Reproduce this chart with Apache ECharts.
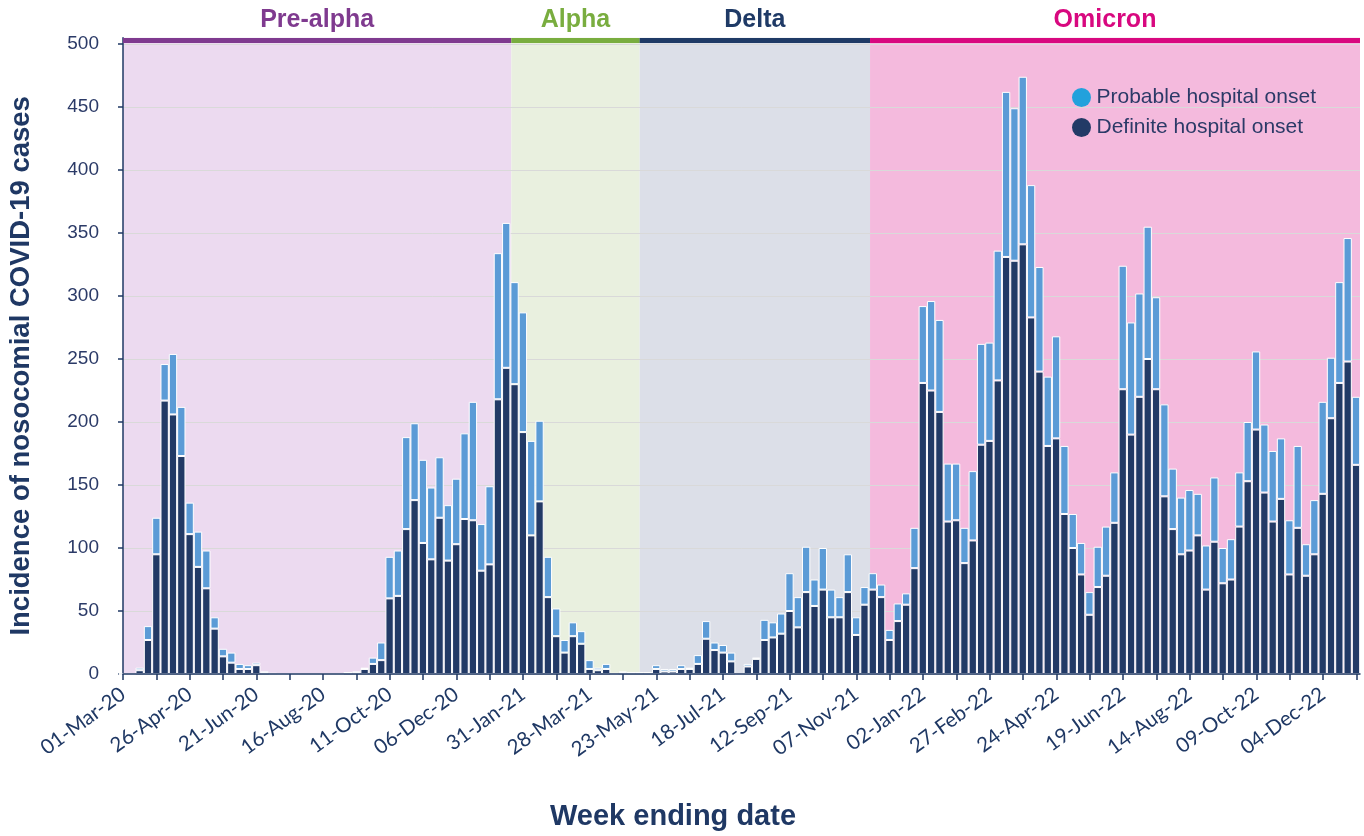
<!DOCTYPE html>
<html>
<head>
<meta charset="utf-8">
<script src="https://cdn.jsdelivr.net/npm/echarts@6/dist/echarts.min.js"></script>
<style>
  html, body { margin: 0; padding: 0; background: #ffffff; }
  #chart { width: 1364px; height: 836px; }
</style>
</head>
<body>
<div id="chart"></div>
<script>
// Weekly nosocomial COVID-19 cases, week ending 01-Mar-20 (index 0) to 01-Jan-23 (index 148)
const definiteOnset = [
  0, 0, 3, 27, 95, 217, 206, 173, 111, 85,
  68, 36, 14, 9, 4, 4, 7, 1, 0, 0,
  0, 0, 0, 0, 0, 0, 0, 1, 1, 4,
  8, 11, 60, 62, 115, 138, 104, 91, 124, 90,
  103, 123, 122, 82, 87, 218, 243, 230, 192, 110,
  137, 61, 30, 17, 30, 24, 4, 3, 4, 0,
  1, 1, 1, 1, 4, 2, 2, 4, 4, 8,
  28, 19, 17, 10, 0, 6, 12, 27, 29, 32,
  50, 37, 65, 54, 67, 45, 45, 65, 31, 55,
  67, 61, 27, 42, 55, 84, 231, 225, 208, 121,
  122, 88, 106, 182, 185, 233, 331, 328, 341, 283,
  240, 181, 187, 127, 100, 79, 47, 69, 78, 120,
  226, 190, 220, 250, 226, 141, 115, 95, 98, 110,
  67, 105, 72, 75, 117, 153, 194, 144, 121, 139,
  79, 116, 78, 95, 143, 203, 231, 248, 166
];
const probableOnset = [
  0, 0, 2, 11, 29, 29, 48, 39, 25, 28,
  30, 9, 6, 8, 4, 3, 2, 1, 1, 0,
  0, 0, 0, 0, 0, 0, 0, 0, 1, 1,
  5, 14, 33, 36, 73, 61, 66, 57, 48, 44,
  52, 68, 94, 37, 62, 116, 115, 81, 95, 75,
  64, 32, 22, 10, 11, 10, 7, 2, 4, 1,
  1, 0, 0, 0, 3, 2, 2, 3, 1, 7,
  14, 6, 6, 7, 0, 2, 1, 16, 12, 16,
  30, 24, 36, 21, 33, 22, 16, 30, 14, 14,
  13, 10, 8, 14, 9, 32, 61, 71, 73, 46,
  45, 28, 55, 80, 78, 103, 131, 121, 133, 105,
  83, 55, 81, 54, 27, 25, 18, 32, 39, 40,
  98, 89, 82, 105, 73, 73, 48, 45, 48, 33,
  35, 51, 28, 32, 43, 47, 62, 54, 56, 48,
  43, 65, 25, 43, 73, 48, 80, 98, 54
];

// Axis labels: one every 8 weeks, ticks every 4 weeks
const xTickLabels = [
  '01-Mar-20', '26-Apr-20', '21-Jun-20', '16-Aug-20', '11-Oct-20', '06-Dec-20',
  '31-Jan-21', '28-Mar-21', '23-May-21', '18-Jul-21', '12-Sep-21', '07-Nov-21',
  '02-Jan-22', '27-Feb-22', '24-Apr-22', '19-Jun-22', '14-Aug-22', '09-Oct-22',
  '04-Dec-22'
];
const yTicks = [0, 50, 100, 150, 200, 250, 300, 350, 400, 450, 500];

// Week-ending dates used as bar categories
const monthNames = ['Jan', 'Feb', 'Mar', 'Apr', 'May', 'Jun', 'Jul', 'Aug', 'Sep', 'Oct', 'Nov', 'Dec'];
const firstWeek = Date.UTC(2020, 2, 1);
const weekEnding = definiteOnset.map((_, i) => {
  const d = new Date(firstWeek + i * 7 * 86400000);
  const dd = String(d.getUTCDate()).padStart(2, '0');
  return dd + '-' + monthNames[d.getUTCMonth()] + '-' + String(d.getUTCFullYear()).slice(2);
});

// Variant periods, in week-index units along the x axis
const phaseNames = ['Pre-alpha', 'Alpha', 'Delta', 'Omicron'];
const phaseStart = [0, 46.6, 62, 89.65];
const phaseEnd = [46.6, 62, 89.65, 148.45];
const phaseFill = ['#ecdaf0', '#e9f0df', '#dcdfe8', '#f4badd'];
const phaseColor = ['#7f3a8f', '#79ad3f', '#1f3a66', '#d8087f'];

const xMax = 148.45;
const yMax = 505;
const bandLevel = 503;

const labelTicks = xTickLabels.map((_, i) => i * 8);
const minorTicks = [];
for (let w = 0; w <= 148; w += 4) minorTicks.push(w);

const navy = '#1f3864';

const backgroundAreas = phaseNames.map((name, i) => [
  {
    name: name,
    xAxis: phaseStart[i],
    itemStyle: { color: phaseFill[i] },
    label: {
      show: true,
      position: 'top',
      distance: 5,
      offset: i === 3 ? [-10, 0] : [0, 0],
      color: phaseColor[i],
      fontFamily: 'Liberation Sans',
      fontWeight: 'bold',
      fontSize: 25
    }
  },
  { xAxis: phaseEnd[i] }
]);

const phaseBands = phaseNames.map((name, i) => [
  { coord: [phaseStart[i], bandLevel], lineStyle: { color: phaseColor[i] } },
  { coord: [phaseEnd[i], bandLevel] }
]);

const plotTop = 37.7;
const plotBottom = 162;

const chart = echarts.init(document.getElementById('chart'), null, { renderer: 'canvas' });

chart.setOption({
  animation: false,
  backgroundColor: '#ffffff',
  title: {
    text: 'Week ending date',
    left: 550,
    top: 802,
    padding: 0,
    textStyle: { fontFamily: 'Liberation Sans', fontWeight: 'bold', fontSize: 29, color: navy }
  },
  legend: {
    orient: 'vertical',
    left: 1067,
    top: 82,
    itemWidth: 20,
    itemHeight: 19,
    itemGap: 9,
    icon: 'circle',
    selectedMode: false,
    textStyle: { fontFamily: 'Liberation Sans', fontSize: 21, lineHeight: 21, color: '#2b3a67' },
    data: [
      { name: 'Probable hospital onset', itemStyle: { color: '#22a1dc', borderWidth: 0 } },
      { name: 'Definite hospital onset', itemStyle: { color: '#223a66', borderWidth: 0 } }
    ]
  },
  grid: [
    // Frame with the visible axes, shading and period bands
    { left: 123, right: 4, top: plotTop, bottom: plotBottom, containLabel: false, outerBoundsMode: 'none' },
    // Bars: first week on the y axis, last week centred on the final tick
    { left: 123, right: 8, top: plotTop, bottom: plotBottom, containLabel: false, outerBoundsMode: 'none' }
  ],
  xAxis: [
    {
      type: 'value',
      gridIndex: 0,
      min: 0,
      max: xMax,
      z: 3,
      splitLine: { show: false },
      axisLine: { show: true, lineStyle: { color: navy, width: 1.5 } },
      axisTick: { show: true, length: 6, customValues: minorTicks, lineStyle: { color: navy, width: 1.5 } },
      axisLabel: {
        customValues: labelTicks,
        rotate: 36,
        margin: 18,
        fontFamily: 'Lato',
        fontSize: 20.5,
        color: navy,
        formatter: v => xTickLabels[Math.round(v / 8)] || ''
      }
    },
    {
      type: 'category',
      gridIndex: 1,
      data: weekEnding,
      boundaryGap: false,
      show: false
    }
  ],
  yAxis: [
    {
      type: 'value',
      gridIndex: 0,
      min: 0,
      max: yMax,
      z: 1.5,
      name: 'Incidence of nosocomial COVID-19 cases',
      nameLocation: 'middle',
      nameRotate: 90,
      nameGap: 88,
      nameTextStyle: {
        fontFamily: 'Liberation Sans', fontWeight: 'bold', fontSize: 27.5, color: navy,
        padding: [0, 20, 0, 0]
      },
      axisLine: { show: true, lineStyle: { color: navy, width: 1.5 } },
      axisTick: { show: true, length: 5, customValues: yTicks, lineStyle: { color: navy, width: 1.5 } },
      axisLabel: {
        customValues: yTicks,
        margin: 24,
        fontFamily: 'Liberation Sans',
        fontSize: 19,
        color: '#2b3a67'
      },
      splitLine: { show: true, lineStyle: { color: '#d9d9d9', width: 1 } }
    },
    {
      type: 'value',
      gridIndex: 1,
      min: 0,
      max: yMax,
      show: false,
      splitLine: { show: false }
    }
  ],
  series: [
    {
      name: 'Definite hospital onset',
      type: 'bar',
      xAxisIndex: 1,
      yAxisIndex: 1,
      stack: 'onset',
      barWidth: '100%',
      clip: false,
      data: definiteOnset,
      itemStyle: { color: '#223a66', borderColor: '#ffffff', borderWidth: 1 }
    },
    {
      name: 'Probable hospital onset',
      type: 'bar',
      xAxisIndex: 1,
      yAxisIndex: 1,
      stack: 'onset',
      barWidth: '100%',
      clip: false,
      data: probableOnset,
      itemStyle: { color: '#5b9bd6', borderColor: '#ffffff', borderWidth: 1 }
    },
    {
      // Variant period shading and the coloured bands along the top
      name: 'Variant periods',
      type: 'line',
      xAxisIndex: 0,
      yAxisIndex: 0,
      data: [],
      silent: true,
      markArea: {
        silent: true,
        z: 1,
        data: backgroundAreas
      },
      markLine: {
        silent: true,
        symbol: ['none', 'none'],
        label: { show: false },
        lineStyle: { type: 'solid', width: 5 },
        data: phaseBands
      }
    }
  ]
});
</script>
</body>
</html>
